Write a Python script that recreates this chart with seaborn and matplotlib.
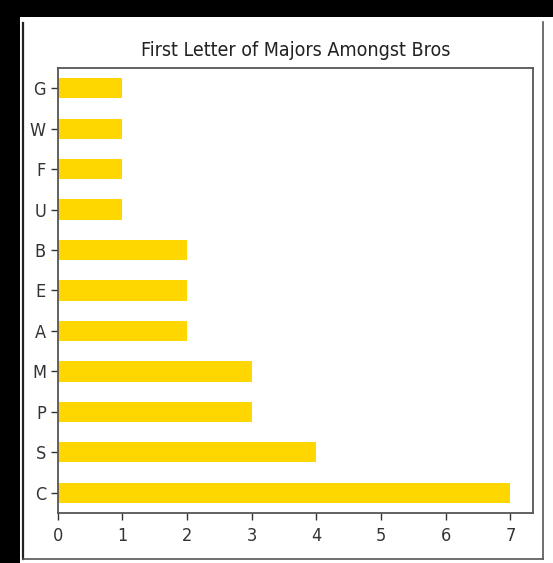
import matplotlib
matplotlib.use("Agg")
import matplotlib.pyplot as plt
import seaborn as sns
from matplotlib.patches import Rectangle
from matplotlib.lines import Line2D

# Data (top to bottom as shown)
letters = ["G", "W", "F", "U", "B", "E", "A", "M", "P", "S", "C"]
counts = [1, 1, 1, 1, 2, 2, 2, 3, 3, 4, 7]

plt.rcParams["font.stretch"] = "condensed"

W, H = 553, 563
fig = plt.figure(figsize=(W / 100, H / 100), dpi=100, facecolor="black")

# white "screenshot" area with a thin frame
fig.add_artist(Rectangle((20 / W, 0), 1 - 20 / W, (H - 17) / H,
                         transform=fig.transFigure, facecolor="white",
                         edgecolor="none", zorder=-5))
fig.add_artist(Line2D([22.7 / W, 22.7 / W], [(H - 559) / H, (H - 23) / H],
                      transform=fig.transFigure, color="#222222", lw=1.6, zorder=-4))
fig.add_artist(Line2D([543 / W, 543 / W], [(H - 559) / H, (H - 22) / H],
                      transform=fig.transFigure, color="#555555", lw=1.2, zorder=-4))
fig.add_artist(Line2D([22.7 / W, 543 / W], [(H - 559) / H, (H - 559) / H],
                      transform=fig.transFigure, color="#555555", lw=1.2, zorder=-4))

ax = fig.add_axes([57.7 / W, (H - 513) / H, (533 - 57.7) / W, (513 - 68) / H])
ax.set_facecolor("white")

sns.barplot(x=counts, y=letters, orient="h", color="gold", saturation=1,
            width=0.5, ax=ax)

ax.set_title("First Letter of Majors Amongst Bros", fontsize=14, color="#222222",
             fontstretch="condensed", pad=9)
ax.set_xlabel("")
ax.set_ylabel("")
ax.tick_params(labelsize=13, length=5, width=1, colors="#333333")
ax.tick_params(axis="x", pad=5)
for lab in ax.get_xticklabels() + ax.get_yticklabels():
    lab.set_fontstretch("condensed")
for s in ax.spines.values():
    s.set_color("#555555")
    s.set_linewidth(1.3)

fig.savefig("out.png", dpi=100, facecolor="black")
